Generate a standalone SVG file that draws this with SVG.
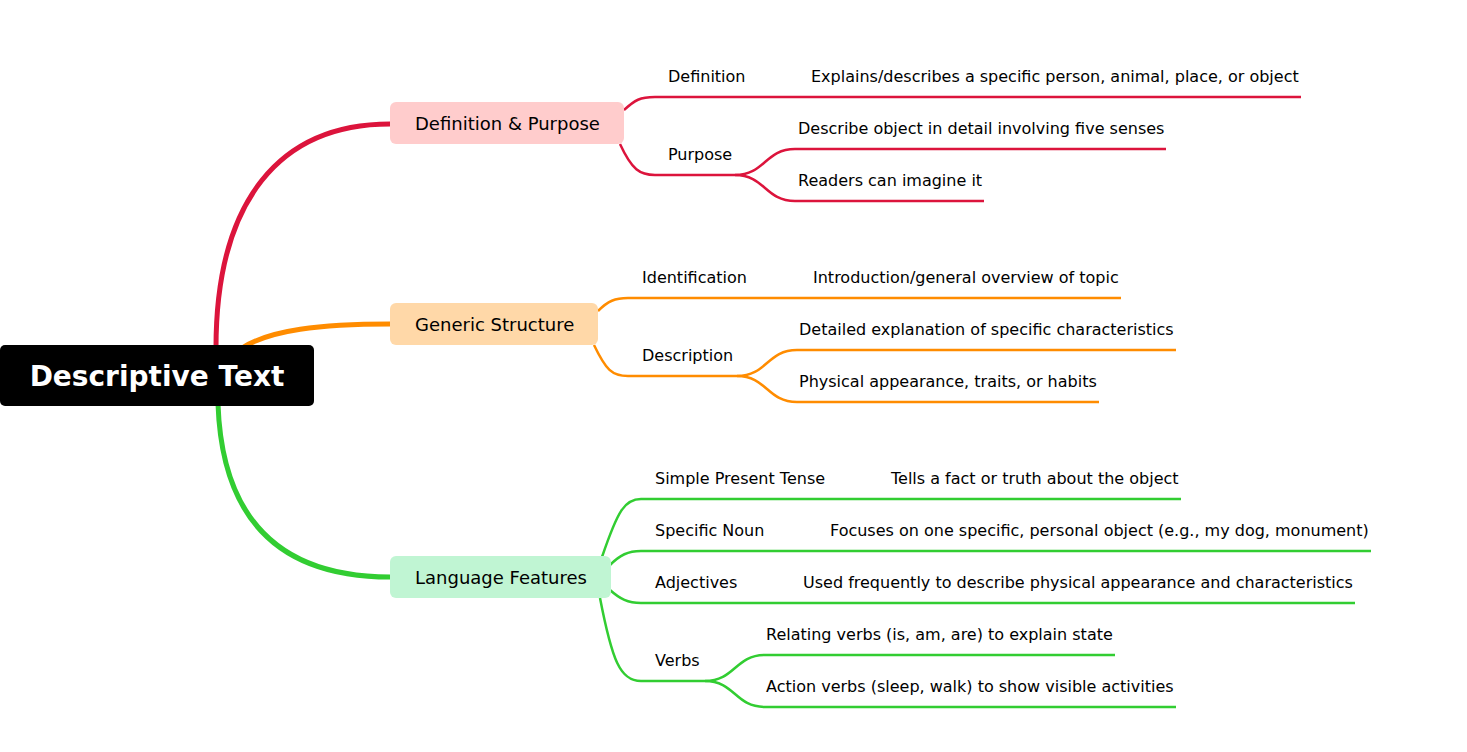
<svg xmlns="http://www.w3.org/2000/svg" width="1467" height="752" viewBox="0 0 1467 752">
<style>
text{font-family:"DejaVu Sans",sans-serif;font-size:16px;fill:#000}
.n{font-size:18px}
.r{fill:none;stroke:#dc143c;stroke-width:2.5}
.o{fill:none;stroke:#ff8c00;stroke-width:2.5}
.g{fill:none;stroke:#32cd32;stroke-width:2.5}
</style>
<rect width="1467" height="752" fill="#fff"/>
<g id="connectors">
<path d="M216,348 C216,200 280,124 390,124" fill="none" stroke="#dc143c" stroke-width="5"/>
<path d="M242,348 C270,330 320,324 390,324" fill="none" stroke="#ff8c00" stroke-width="5"/>
<path d="M218,404 C222,520 280,577 390,577" fill="none" stroke="#32cd32" stroke-width="5"/>
<path class="r" d="M624,110 C635,100 640,97 655,97 L1301,97"/>
<path class="r" d="M620,144 C632,170 640,175 655,175 L735,175"/>
<path class="r" d="M735,175 C765,175 765,149 795,149 L1166,149"/>
<path class="r" d="M735,175 C765,175 765,201 795,201 L984,201"/>
<path class="o" d="M598,311 C608,301 615,298 628,298 L1121,298"/>
<path class="o" d="M594,345 C606,370 612,376 628,376 L737,376"/>
<path class="o" d="M737,376 C767,376 767,350 797,350 L1176,350"/>
<path class="o" d="M737,376 C767,376 767,402 797,402 L1099,402"/>
<path class="g" d="M602,557 C618,510 625,499 641,499 L1181,499"/>
<path class="g" d="M610,565 C620,555 628,551 641,551 L1371,551"/>
<path class="g" d="M610,590 C620,599 628,603 641,603 L1355,603"/>
<path class="g" d="M600,598 C612,660 620,681 641,681 L705,681"/>
<path class="g" d="M705,681 C735,681 735,655 765,655 L1115,655"/>
<path class="g" d="M705,681 C735,681 735,707 765,707 L1176,707"/>
</g>
<g id="root"><rect x="0" y="345" width="314" height="61" rx="5" fill="#000"/><text x="157" y="386" text-anchor="middle" style="font-size:28px;font-weight:bold;fill:#fff">Descriptive Text</text></g>
<g id="n1"><rect x="390" y="102" width="234" height="42" rx="6" fill="#ffcccc"/><text class="n" x="415" y="130">Definition &amp; Purpose</text></g>
<g id="n2"><rect x="390" y="303" width="208" height="42" rx="6" fill="#ffd8a8"/><text class="n" x="415" y="331">Generic Structure</text></g>
<g id="n3"><rect x="390" y="556" width="221" height="42" rx="6" fill="#c0f5d3"/><text class="n" x="415" y="584">Language Features</text></g>
<g id="labels">
<text x="668" y="82">Definition</text><text x="811" y="82">Explains/describes a specific person, animal, place, or object</text>
<text x="668" y="160">Purpose</text>
<text x="798" y="134">Describe object in detail involving five senses</text>
<text x="798" y="186">Readers can imagine it</text>
<text x="642" y="283">Identification</text><text x="813" y="283">Introduction/general overview of topic</text>
<text x="642" y="361">Description</text>
<text x="799" y="335">Detailed explanation of specific characteristics</text>
<text x="799" y="387">Physical appearance, traits, or habits</text>
<text x="655" y="484">Simple Present Tense</text><text x="891" y="484">Tells a fact or truth about the object</text>
<text x="655" y="536">Specific Noun</text><text x="830" y="536">Focuses on one specific, personal object (e.g., my dog, monument)</text>
<text x="655" y="588">Adjectives</text><text x="803" y="588">Used frequently to describe physical appearance and characteristics</text>
<text x="655" y="666">Verbs</text>
<text x="766" y="640">Relating verbs (is, am, are) to explain state</text>
<text x="766" y="692">Action verbs (sleep, walk) to show visible activities</text>
</g>
</svg>
